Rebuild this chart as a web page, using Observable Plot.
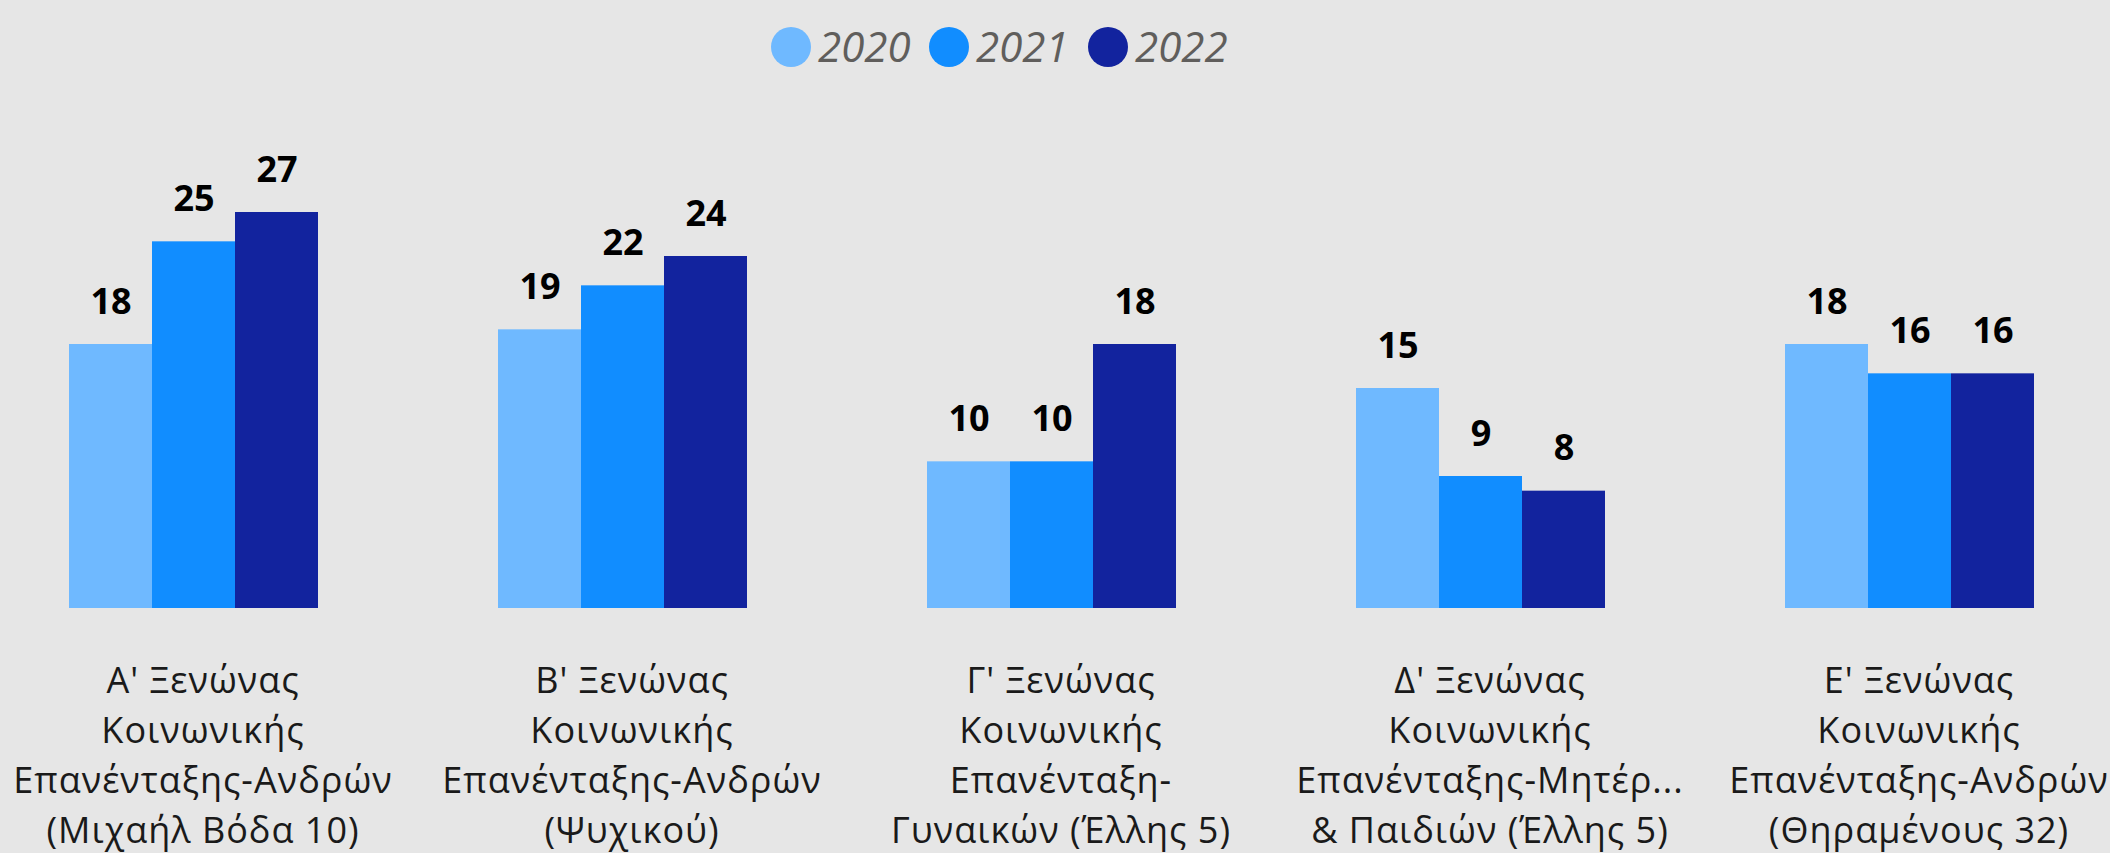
<!DOCTYPE html>
<html>
<head>
<meta charset="utf-8">
<script src="https://cdn.jsdelivr.net/npm/d3@7"></script>
<script src="https://cdn.jsdelivr.net/npm/@observablehq/plot@0.6"></script>
<style>
  html, body { margin: 0; padding: 0; background: #e6e6e6; overflow: hidden; }
  #legend { position: relative; height: 90px; width: 2110px; font-family: "Open Sans", "Segoe UI", sans-serif; }
  .item { position: absolute; top: 0; height: 90px; }
  .dot { position: absolute; width: 40px; height: 40px; border-radius: 50%; top: 27px; left: 0; }
  .lab { position: absolute; left: 47px; top: 18px; font-size: 42px; font-style: italic; color: #605e5c; line-height: 56px; white-space: nowrap; }
  #chart svg { display: block; }
</style>
</head>
<body>
<div id="legend"></div>
<div id="chart"></div>
<script>
const categories = [
  "Α' Ξενώνας\nΚοινωνικής\nΕπανένταξης-Ανδρών\n(Μιχαήλ Βόδα 10)",
  "Β' Ξενώνας\nΚοινωνικής\nΕπανένταξης-Ανδρών\n(Ψυχικού)",
  "Γ' Ξενώνας\nΚοινωνικής\nΕπανένταξη-\nΓυναικών (Έλλης 5)",
  "Δ' Ξενώνας\nΚοινωνικής\nΕπανένταξης-Μητέρ...\n& Παιδιών (Έλλης 5)",
  "Ε' Ξενώνας\nΚοινωνικής\nΕπανένταξης-Ανδρών\n(Θηραμένους 32)"
];
const years = ["2020", "2021", "2022"];
const values2020 = [18, 19, 10, 15, 18];
const values2021 = [25, 22, 10, 9, 16];
const values2022 = [27, 24, 18, 8, 16];
const colors = ["#6fb9ff", "#118dff", "#12239e"];

const series = [values2020, values2021, values2022];
const data = [];
categories.forEach((c, i) => {
  years.forEach((y, j) => data.push({category: c, year: y, value: series[j][i]}));
});

// Legend (HTML, above the SVG)
const legendLefts = [771, 929, 1088];
const legend = document.getElementById("legend");
years.forEach((y, j) => {
  const it = document.createElement("div");
  it.className = "item";
  it.style.left = legendLefts[j] + "px";
  it.innerHTML = `<div class="dot" style="background:${colors[j]}"></div><div class="lab">${y}</div>`;
  legend.appendChild(it);
});

const chart = Plot.plot({
  width: 2110,
  height: 763,
  marginLeft: 68,
  marginRight: 75,
  marginTop: 78,
  marginBottom: 245,
  style: {background: "#e6e6e6", fontFamily: "'Open Sans', 'Segoe UI', sans-serif", overflow: "visible"},
  fx: {domain: categories, paddingInner: 0.42, paddingOuter: 0, align: 0.5, label: null},
  x: {domain: years, padding: 0, axis: null},
  y: {domain: [0, 30], axis: null},
  color: {domain: years, range: colors},
  marks: [
    Plot.barY(data, {fx: "category", x: "year", y: "value", fill: "year"}),
    Plot.text(data, {fx: "category", x: "year", y: "value", text: d => String(d.value),
      lineAnchor: "bottom", dy: -31, fontSize: 36, fontWeight: "bold", fill: "#000"}),
    Plot.axisFx({anchor: "bottom", tickSize: 0, tickPadding: 49, fontSize: 36, lineHeight: 1.389,
      dx: 9, fill: "#1a1a1a", label: null, tickFormat: d => d})
  ]
});
d3.select(chart).selectAll("g[aria-label='fx-axis tick label'] text").style("letter-spacing", "1px");
document.getElementById("chart").appendChild(chart);
</script>
</body>
</html>
